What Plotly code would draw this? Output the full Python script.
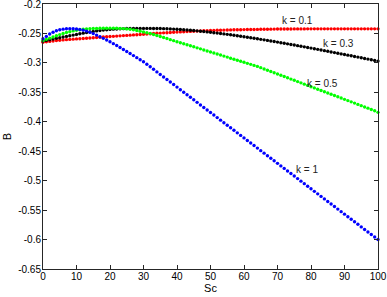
import plotly.graph_objects as go

sc = list(range(101))

b_k01 = [-0.2650, -0.2642, -0.2635, -0.2628, -0.2621, -0.2615, -0.2610, -0.2605, -0.2601, -0.2597,
         -0.2593, -0.2589, -0.2585, -0.2581, -0.2577, -0.2573, -0.2569, -0.2565, -0.2561, -0.2557,
         -0.2553, -0.2549, -0.2545, -0.2541, -0.2537, -0.2533, -0.2529, -0.2525, -0.2521, -0.2517,
         -0.2513, -0.2509, -0.2505, -0.2501, -0.2497, -0.2494, -0.2490, -0.2487, -0.2483, -0.2480,
         -0.2477, -0.2474, -0.2471, -0.2468, -0.2465, -0.2462, -0.2460, -0.2457, -0.2455, -0.2453,
         -0.2451, -0.2449, -0.2447, -0.2445, -0.2443, -0.2441, -0.2440, -0.2438, -0.2437, -0.2436,
         -0.2435, -0.2434, -0.2433, -0.2432, -0.2431, -0.2430, -0.2429, -0.2428, -0.2427, -0.2426,
         -0.2425, -0.2425, -0.2424, -0.2424, -0.2424, -0.2423, -0.2423, -0.2423, -0.2423, -0.2422,
         -0.2422, -0.2422, -0.2422, -0.2422, -0.2422, -0.2422, -0.2422, -0.2422, -0.2422, -0.2422,
         -0.2422, -0.2422, -0.2422, -0.2422, -0.2422, -0.2422, -0.2422, -0.2422, -0.2422, -0.2422,
         -0.2422]

b_k03 = [-0.2630, -0.2618, -0.2606, -0.2594, -0.2583, -0.2572, -0.2561, -0.2550, -0.2539, -0.2528,
         -0.2517, -0.2506, -0.2495, -0.2485, -0.2475, -0.2465, -0.2457, -0.2449, -0.2442, -0.2436,
         -0.2431, -0.2427, -0.2424, -0.2421, -0.2419, -0.2417, -0.2416, -0.2415, -0.2414, -0.2414,
         -0.2414, -0.2414, -0.2414, -0.2415, -0.2416, -0.2417, -0.2419, -0.2421, -0.2423, -0.2426,
         -0.2429, -0.2433, -0.2437, -0.2441, -0.2446, -0.2451, -0.2456, -0.2462, -0.2468, -0.2474,
         -0.2480, -0.2487, -0.2494, -0.2501, -0.2508, -0.2515, -0.2523, -0.2531, -0.2539, -0.2547,
         -0.2555, -0.2564, -0.2573, -0.2582, -0.2591, -0.2600, -0.2609, -0.2618, -0.2628, -0.2637,
         -0.2647, -0.2657, -0.2667, -0.2677, -0.2687, -0.2697, -0.2707, -0.2717, -0.2728, -0.2738,
         -0.2749, -0.2759, -0.2770, -0.2781, -0.2792, -0.2803, -0.2814, -0.2825, -0.2836, -0.2847,
         -0.2858, -0.2869, -0.2880, -0.2891, -0.2902, -0.2913, -0.2925, -0.2936, -0.2947, -0.2958,
         -0.2970]

b_k05 = [-0.2620, -0.2600, -0.2580, -0.2560, -0.2540, -0.2520, -0.2502, -0.2485, -0.2470, -0.2457,
         -0.2445, -0.2437, -0.2430, -0.2424, -0.2420, -0.2417, -0.2415, -0.2413, -0.2412, -0.2411,
         -0.2410, -0.2411, -0.2412, -0.2415, -0.2418, -0.2423, -0.2430, -0.2439, -0.2450, -0.2462,
         -0.2475, -0.2487, -0.2500, -0.2517, -0.2535, -0.2552, -0.2570, -0.2587, -0.2605, -0.2622,
         -0.2640, -0.2657, -0.2675, -0.2692, -0.2710, -0.2727, -0.2745, -0.2762, -0.2780, -0.2797,
         -0.2815, -0.2832, -0.2850, -0.2867, -0.2885, -0.2902, -0.2920, -0.2937, -0.2955, -0.2972,
         -0.2990, -0.3008, -0.3025, -0.3043, -0.3060, -0.3081, -0.3103, -0.3124, -0.3146, -0.3167,
         -0.3189, -0.3210, -0.3232, -0.3253, -0.3275, -0.3296, -0.3318, -0.3339, -0.3361, -0.3382,
         -0.3404, -0.3425, -0.3447, -0.3468, -0.3490, -0.3511, -0.3533, -0.3554, -0.3576, -0.3597,
         -0.3619, -0.3640, -0.3662, -0.3683, -0.3705, -0.3726, -0.3748, -0.3769, -0.3791, -0.3812,
         -0.3840]

b_k1 = [-0.2590, -0.2550, -0.2510, -0.2480, -0.2455, -0.2437, -0.2427, -0.2421, -0.2419, -0.2420,
        -0.2424, -0.2432, -0.2444, -0.2460, -0.2480, -0.2503, -0.2528, -0.2555, -0.2583, -0.2612,
        -0.2642, -0.2673, -0.2705, -0.2738, -0.2772, -0.2806, -0.2841, -0.2876, -0.2911, -0.2946,
        -0.2981, -0.3023, -0.3066, -0.3109, -0.3153, -0.3196, -0.3239, -0.3282, -0.3325, -0.3368,
        -0.3411, -0.3455, -0.3498, -0.3541, -0.3584, -0.3627, -0.3670, -0.3714, -0.3757, -0.3800,
        -0.3843, -0.3886, -0.3929, -0.3972, -0.4016, -0.4059, -0.4102, -0.4145, -0.4188, -0.4231,
        -0.4274, -0.4318, -0.4361, -0.4404, -0.4447, -0.4490, -0.4533, -0.4576, -0.4620, -0.4663,
        -0.4706, -0.4749, -0.4792, -0.4835, -0.4879, -0.4922, -0.4965, -0.5008, -0.5051, -0.5094,
        -0.5137, -0.5181, -0.5224, -0.5267, -0.5310, -0.5353, -0.5396, -0.5439, -0.5483, -0.5526,
        -0.5569, -0.5612, -0.5655, -0.5698, -0.5741, -0.5785, -0.5828, -0.5871, -0.5914, -0.5957,
        -0.6000]

series_names = ["k = 0.1", "k = 0.3", "k = 0.5", "k = 1"]
series_values = [b_k01, b_k03, b_k05, b_k1]
series_colors = ["#ff0000", "#000000", "#00ff00", "#0000ff"]
label_x = [76.1, 88.1, 83.3, 78.8]
label_y = [-0.2272, -0.2663, -0.3343, -0.4805]

x_ticks = list(range(0, 101, 10))
y_ticks = [-0.2, -0.25, -0.3, -0.35, -0.4, -0.45, -0.5, -0.55, -0.6, -0.65]
y_tick_text = ["-0.2", "-0.25", "-0.3", "-0.35", "-0.4", "-0.45", "-0.5", "-0.55", "-0.6", "-0.65"]

FONT = "Liberation Sans, Arial, sans-serif"

fig = go.Figure()
for name, vals, col in zip(series_names, series_values, series_colors):
    fig.add_trace(go.Scatter(x=sc, y=vals, mode="markers", name=name,
                             marker=dict(color=col, size=3.4, symbol="circle", line=dict(width=0)),
                             showlegend=False, cliponaxis=False))

for name, lx, ly in zip(series_names, label_x, label_y):
    fig.add_annotation(x=lx, y=ly, text=name, showarrow=False,
                       font=dict(family=FONT, size=10, color="#222222"))

axis_common = dict(showgrid=False, zeroline=False, showline=True, linecolor="#262626", linewidth=1,
                   mirror="ticks", ticks="inside", ticklen=4, tickcolor="#262626",
                   automargin=False, ticklabeloverflow="allow",
                   tickfont=dict(family=FONT, size=10, color="#000000"))

fig.update_layout(
    width=387, height=297,
    margin=dict(l=43, r=9, t=4, b=28),
    paper_bgcolor="white", plot_bgcolor="white",
    xaxis=dict(range=[0, 100], tickvals=x_ticks, ticktext=[str(v) for v in x_ticks],
               ticklabelstandoff=-2,
               title=dict(text="Sc", standoff=0, font=dict(family=FONT, size=11, color="#000000")),
               **axis_common),
    yaxis=dict(range=[-0.65, -0.2], tickvals=y_ticks, ticktext=y_tick_text,
               ticklabelstandoff=-1,
               title=dict(text="B", standoff=4, font=dict(family=FONT, size=11, color="#000000")),
               **axis_common),
)

fig.write_html("out.html",
               config={"displayModeBar": False},
               post_script="document.body.style.margin='0';document.body.style.padding='0';"
                           "document.documentElement.style.margin='0';")
